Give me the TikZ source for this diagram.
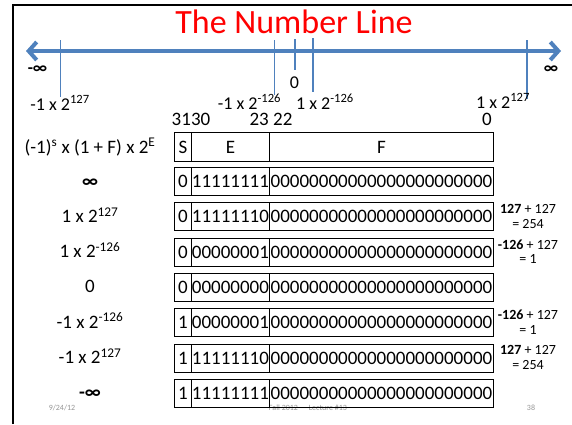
\documentclass[tikz,border=0pt]{standalone}
\usepackage{fontspec}
\setmainfont{Carlito}
\usetikzlibrary{arrows.meta}
\definecolor{lineblue}{RGB}{79,129,189}
\definecolor{footgray}{RGB}{150,150,150}
\tikzset{nlbarb/.tip={Straight Barb[length=8pt, width=18pt]}}
\begin{document}
\begin{tikzpicture}[x=1pt,y=-1pt,
  lbl/.style={inner sep=0pt, anchor=base, font=\fontsize{18}{20}\selectfont},
  tlbl/.style={inner sep=0pt, anchor=base, font=\fontsize{19}{21}\selectfont},
  cellS/.style={draw=black, line width=0.9pt, inner sep=0pt, anchor=north west, minimum width=17pt, font=\fontsize{19}{21}\selectfont},
  cellE/.style={cellS, minimum width=78pt},
  cellF/.style={cellS, minimum width=224pt},
  hdr/.style={minimum height=29pt},
  rw/.style={minimum height=28pt},
  note/.style={inner sep=0pt, align=center, font=\fontsize{14}{14.5}\selectfont},
  foot/.style={inner sep=0pt, text=footgray, font=\fontsize{8}{9}\selectfont},
  tickline/.style={draw=lineblue, line width=1.2pt}]

\useasboundingbox (0,0) rectangle (572,424);
\fill[white] (0,0) rectangle (572,424);
\draw[line width=2.5pt] (13,424) -- (13,5) -- (572,5);

% title
\node[inner sep=0pt, text=red, font=\fontsize{34}{36}\selectfont] (title) at (294,22) {The Number Line};

% number line
\coordinate (L) at (26,51);
\coordinate (R) at (561,51);
\draw[lineblue, line width=4pt, nlbarb-nlbarb] (L) -- (R);

\coordinate (t1a) at (60.5,40);  \coordinate (t1b) at (60.5,97);
\coordinate (t2a) at (274.5,40); \coordinate (t2b) at (274.5,95);
\coordinate (t3a) at (295,39);   \coordinate (t3b) at (295,70);
\coordinate (t4a) at (313,38);   \coordinate (t4b) at (313,92);
\coordinate (t5a) at (527,40);   \coordinate (t5b) at (527,99);
\draw[tickline] (t1a) -- (t1b);
\draw[tickline] (t2a) -- (t2b);
\draw[tickline] (t3a) -- (t3b);
\draw[tickline] (t4a) -- (t4b);
\draw[tickline] (t5a) -- (t5b);

\node[lbl, font=\fontsize{17}{20}\selectfont\bfseries] (minf) at (37.5,73) {-∞};
\node[lbl, font=\fontsize{17}{20}\selectfont\bfseries] (pinf) at (551,73) {∞};
\node[lbl] (zero) at (294.5,88) {0};
\node[lbl] (nl1) at (60,110) {-1 x 2\textsuperscript{127}};
\node[lbl] (nl2) at (249.5,109) {-1 x 2\textsuperscript{-126}};
\node[lbl] (nl3) at (325,109) {1 x 2\textsuperscript{-126}};
\node[lbl] (nl4) at (503,108) {1 x 2\textsuperscript{127}};
\node[tlbl] (b31) at (191,125) {3130};
\node[tlbl] (b23) at (271,125) {23 22};
\node[tlbl] (b0) at (487,125.5) {0};

% footer (under the table)
\node[foot] (date) at (62,408) {9/24/12};
\node[foot] (course) at (308,408) {Fall 2012 — Lecture \#13};
\node[foot] (page) at (531,408) {38};

% header
\node[tlbl] (hl) at (90,153) {(-1)\textsuperscript{s} x (1 + F) x 2\textsuperscript{E}};
\node[cellS, hdr] (hS) at (174,132) {S};
\node[cellE, hdr] (hE) at (191,132) {E};
\node[cellF, hdr] (hF) at (269,132) {F};

% rows
\node[tlbl, font=\fontsize{19}{21}\selectfont\bfseries] (l0) at (90,187) {∞};
\node[cellS, rw] (s0) at (174,167) {0};
\node[cellE, rw] (e0) at (191,167) {11111111};
\node[cellF, rw] (f0) at (269,167) {00000000000000000000000};

\node[tlbl] (l1) at (90,222.3) {1 x 2\textsuperscript{127}};
\node[cellS, rw] (s1) at (174,202.3) {0};
\node[cellE, rw] (e1) at (191,202.3) {11111110};
\node[cellF, rw] (f1) at (269,202.3) {00000000000000000000000};
\node[note] (n1) at (528,216.3) {\textbf{127} + 127\\= 254};

\node[tlbl] (l2) at (90,257.6) {1 x 2\textsuperscript{-126}};
\node[cellS, rw] (s2) at (174,237.6) {0};
\node[cellE, rw] (e2) at (191,237.6) {00000001};
\node[cellF, rw] (f2) at (269,237.6) {00000000000000000000000};
\node[note] (n2) at (528,251.6) {\textbf{-126} + 127\\= 1};

\node[tlbl] (l3) at (90,292.9) {0};
\node[cellS, rw] (s3) at (174,272.9) {0};
\node[cellE, rw] (e3) at (191,272.9) {00000000};
\node[cellF, rw] (f3) at (269,272.9) {00000000000000000000000};

\node[tlbl] (l4) at (90,328.2) {-1 x 2\textsuperscript{-126}};
\node[cellS, rw] (s4) at (174,308.2) {1};
\node[cellE, rw] (e4) at (191,308.2) {00000001};
\node[cellF, rw] (f4) at (269,308.2) {00000000000000000000000};
\node[note] (n4) at (528,322.2) {\textbf{-126} + 127\\= 1};

\node[tlbl] (l5) at (90,363.5) {-1 x 2\textsuperscript{127}};
\node[cellS, rw] (s5) at (174,343.5) {1};
\node[cellE, rw] (e5) at (191,343.5) {11111110};
\node[cellF, rw] (f5) at (269,343.5) {00000000000000000000000};
\node[note] (n5) at (528,357.5) {\textbf{127} + 127\\= 254};

\node[tlbl, font=\fontsize{19}{21}\selectfont\bfseries] (l6) at (90,398.8) {-∞};
\node[cellS, rw] (s6) at (174,378.8) {1};
\node[cellE, rw] (e6) at (191,378.8) {11111111};
\node[cellF, rw] (f6) at (269,378.8) {00000000000000000000000};
\end{tikzpicture}
\end{document}
